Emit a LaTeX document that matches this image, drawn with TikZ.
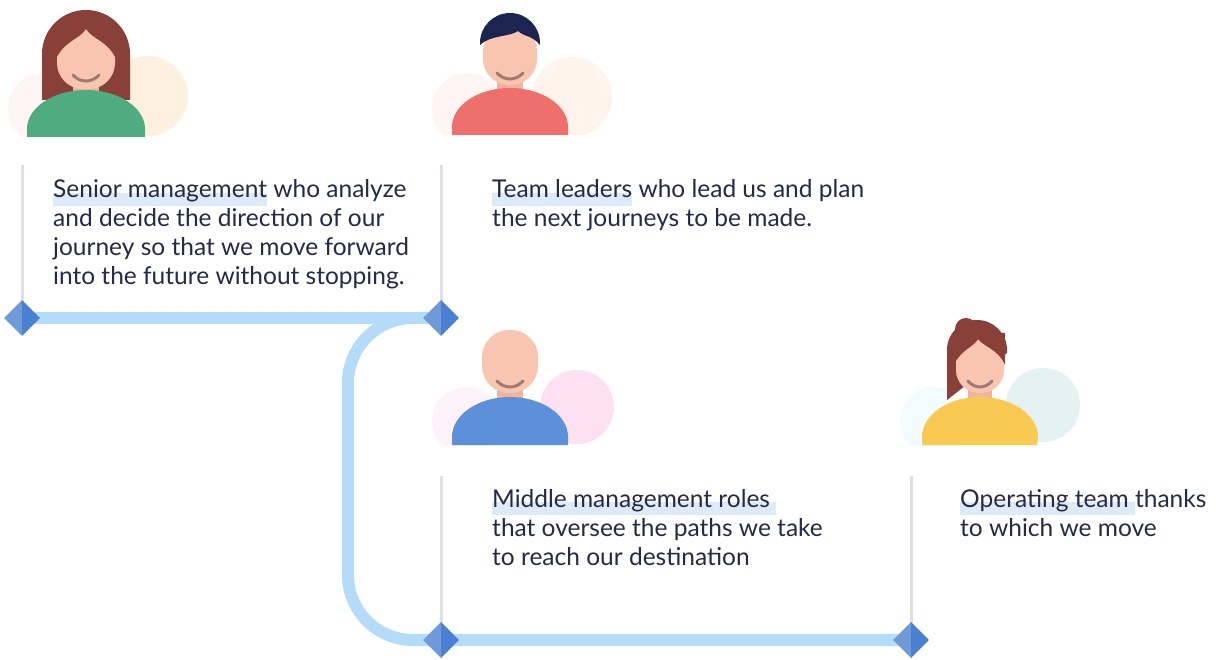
\documentclass[tikz,border=0pt]{standalone}
\usepackage{fontspec}
\setmainfont{Lato}
\usetikzlibrary{shapes.geometric}

\definecolor{ink}{HTML}{262A47}
\definecolor{hlblue}{HTML}{DCEAF9}
\definecolor{road}{HTML}{B4DBF8}
\definecolor{stemgrey}{HTML}{DEDFE8}
\definecolor{gemlight}{HTML}{6F9AD8}
\definecolor{gemdark}{HTML}{4A80D2}
\definecolor{skin}{HTML}{F8C6B0}
\definecolor{neck}{HTML}{EFB39E}
\definecolor{smile}{HTML}{A27A72}
\definecolor{brown}{HTML}{884039}
\definecolor{navy}{HTML}{1C2550}
\definecolor{shirtgreen}{HTML}{4FAC80}
\definecolor{shirtcoral}{HTML}{EE6F6B}
\definecolor{shirtblue}{HTML}{5C90D9}
\definecolor{shirtyellow}{HTML}{F8CA52}

% highlighted words: a pale band under the baseline
\newcommand\hilite[1]{\setbox0\hbox{#1}\rlap{\color{hlblue}\rule[-8pt]{\wd0}{13pt}}\box0\relax}

\tikzset{
  road/.style={draw=road, line width=12pt},
  stem/.style={draw=stemgrey, line width=3pt},
  gem/.style={diamond, minimum size=36pt, inner sep=0pt, fill=gemlight,
    path picture={\fill[gemdark] (path picture bounding box.north)
      -- (path picture bounding box.east) -- (path picture bounding box.south) -- cycle;}},
  % anchored at the baseline of the last line
  note/.style={anchor=base west, inner sep=0pt, align=left, text=ink,
    font=\fontsize{24.5}{29}\selectfont},
  grin/.style={draw=smile, line width=3pt, line cap=round},
}

\begin{document}
\begin{tikzpicture}[x=1pt,y=-1pt]
\useasboundingbox[fill=white] (0,0) rectangle (1216,660);

% ---- people ----
\begin{scope}[shift={(86,137)}]
  \begin{scope}
    \clip (-100,-160) rectangle (120,0);
    \fill[orange!12] (62,-41) circle (40);
    \fill[red!4] (-42,-28) circle (36);
  \end{scope}
  \fill[brown] (-44,-37) -- (-44,-83) arc[start angle=180,end angle=360,radius=44] -- (44,-37) -- cycle;
  \fill[neck] (-13,-58) rectangle (13,-40);
  \fill[shirtgreen] (-59,0) -- (-59,-8) arc[start angle=180,end angle=360,x radius=59,y radius=39] -- (59,0) -- cycle;
  \fill[skin, rounded corners=26pt] (-29,-108) rectangle (29,-48);
  \fill[brown] (-30,-78) .. controls (-22,-96) and (-6,-98) .. (0,-108)
    .. controls (6,-98) and (22,-96) .. (30,-78) -- (30,-112) -- (-30,-112) -- cycle;
  \draw[grin] (-13,-62) .. controls (-6,-54) and (6,-54) .. (13,-62);
\end{scope}

\begin{scope}[shift={(510,135)}]
  \begin{scope}
    \clip (-100,-160) rectangle (120,0);
    \fill[red!9!orange!8] (62,-38) circle (40);
    \fill[red!4] (-42,-26) circle (36);
  \end{scope}
  \fill[neck] (-13,-58) rectangle (13,-40);
  \fill[shirtcoral] (-58,0) -- (-58,-8) arc[start angle=180,end angle=360,x radius=58,y radius=39] -- (58,0) -- cycle;
  \fill[skin, rounded corners=26pt] (-27,-110) rectangle (27,-50);
  \fill[navy] (-30,-90) -- (-30,-92) arc[start angle=180,end angle=360,radius=30]
    -- (30,-90) .. controls (22,-100) and (14,-98) .. (8,-104)
    .. controls (0,-98) and (-20,-100) .. (-30,-90) -- cycle;
  \draw[grin] (-13,-62) .. controls (-6,-54) and (6,-54) .. (13,-62);
\end{scope}

\begin{scope}[shift={(510,445)}]
  \begin{scope}
    \clip (-100,-160) rectangle (120,0);
    \fill[magenta!12] (67,-38) circle (37);
    \fill[magenta!5] (-44,-24) circle (34);
  \end{scope}
  \fill[neck] (-13,-60) rectangle (13,-42);
  \fill[shirtblue] (-58,0) -- (-58,-8) arc[start angle=180,end angle=360,x radius=58,y radius=40] -- (58,0) -- cycle;
  \fill[skin, rounded corners=27pt] (-28,-115) rectangle (28,-52);
  \draw[grin] (-13,-64) .. controls (-6,-56) and (6,-56) .. (13,-64);
\end{scope}

\begin{scope}[shift={(980,445)}]
  \begin{scope}
    \clip (-100,-160) rectangle (120,0);
    \fill[teal!10] (63,-40) circle (37);
    \fill[cyan!5] (-46,-24) circle (34);
  \end{scope}
  \fill[brown] (-14,-116) circle (11);
  \fill[brown] (-33,-45) -- (-33,-95) arc[start angle=180,end angle=360,radius=30] -- (27,-92) -- cycle;
  \fill[neck] (-12,-60) rectangle (12,-42);
  \fill[shirtyellow] (-58,0) -- (-58,-8) arc[start angle=180,end angle=360,x radius=58,y radius=40] -- (57,0) -- cycle;
  \fill[skin, rounded corners=23pt] (-24,-106) rectangle (24,-52);
  \fill[brown] (-25,-82) .. controls (-18,-96) and (-6,-98) .. (-2,-106)
    .. controls (4,-98) and (18,-96) .. (25,-80) -- (25,-112) -- (-25,-112) -- cycle;
  \draw[grin] (-12,-64) .. controls (-5,-56) and (5,-56) .. (12,-64);
\end{scope}

% ---- the route ----
\coordinate (a) at (22,318);
\coordinate (b) at (441,318);
\coordinate (c) at (441,640);
\coordinate (d) at (911,640);

\draw[stem] (a) -- ++(0,-153);
\draw[stem] (b) -- ++(0,-153);
\draw[stem] (c) -- ++(0,-164);
\draw[stem] (d) -- ++(0,-164);

\draw[road] (a) -- (b);
\draw[road, rounded corners=65pt] (b) -| (348,640) -- (c);
\draw[road] (c) -- (d);

\node[gem] (ga) at (a) {};
\node[gem] (gb) at (b) {};
\node[gem] (gc) at (c) {};
\node[gem] (gd) at (d) {};

% ---- texts ----
\node[note] (senior) at (53,285) {\hilite{Senior management} who analyze\\
  and decide the direction of our\\
  journey so that we move forward\\
  into the future without stopping.};
\node[note] (leaders) at (492,227) {\hilite{Team leaders} who lead us and plan\\
  the next journeys to be made.};
\node[note] (middle) at (492,565) {\hilite{Middle management roles\ }\\
  that oversee the paths we take\\
  to reach our destination};
\node[note] (operating) at (960,536) {\hilite{Operating team\ }thanks\\
  to which we move};

\end{tikzpicture}
\end{document}
